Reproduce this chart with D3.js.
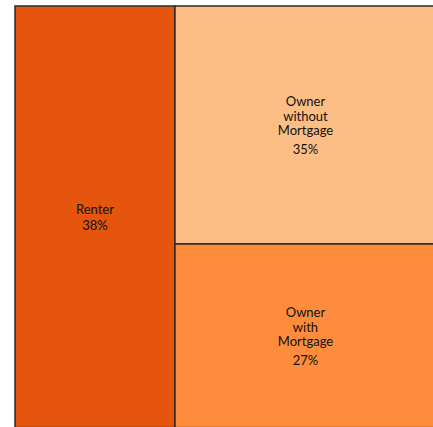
<!DOCTYPE html>
<html>
<head>
<meta charset="utf-8">
<script src="https://cdn.jsdelivr.net/npm/d3@7"></script>
<style>
  body { margin: 0; background: #fff; }
  svg { display: block; }
  .cell-label { font-family: Lato, "DejaVu Sans", sans-serif; font-size: 13px; fill: #111; }
</style>
</head>
<body>
<div id="chart"></div>
<script>
// housing tenure shares (percent)
var tenures = ["Renter", "Owner without Mortgage", "Owner with Mortgage"];
var groups = ["Renter", "Owner", "Owner"];
var shares = [38, 35, 27];
var fills = ["#e6550d", "#fdbe85", "#fd8d3c"];

var width = 433, height = 427;
var box = { left: 15, top: 6, right: 436, bottom: 427.6 };

var svg = d3.select("#chart").append("svg")
    .attr("width", width)
    .attr("height", height);

// build nested tree: renter alone, owners split inside one column
var rootData = { name: "root", children: [] };
tenures.forEach(function(t, i) {
    var leaf = { name: t, value: shares[i], fill: fills[i] };
    if (groups[i] === t) {
        rootData.children.push(leaf);
    } else {
        var g = rootData.children.find(function(c) { return c.name === groups[i]; });
        if (!g) {
            g = { name: groups[i], children: [] };
            rootData.children.push(g);
        }
        g.children.push(leaf);
    }
});

var root = d3.hierarchy(rootData).sum(function(d) { return d.value || 0; });

d3.treemap()
    .tile(d3.treemapSliceDice)
    .size([box.right - box.left, box.bottom - box.top])
    .paddingInner(0)
    (root);

var g = svg.append("g")
    .attr("transform", "translate(" + box.left + "," + box.top + ")");

var cells = g.selectAll("g.cell")
    .data(root.leaves())
    .enter().append("g")
    .attr("class", "cell");

cells.append("rect")
    .attr("x", function(d) { return d.x0; })
    .attr("y", function(d) { return d.y0; })
    .attr("width", function(d) { return d.x1 - d.x0; })
    .attr("height", function(d) { return d.y1 - d.y0; })
    .attr("fill", function(d) { return d.data.fill; })
    .attr("stroke", "#2a2a2a")
    .attr("stroke-width", 1.5);

cells.each(function(d) {
    var words = d.data.name.split(" ");
    var lineH = 14.5;
    var pctGap = words.length > 1 ? 19 : 16;
    var blockH = (words.length - 1) * lineH + pctGap;
    var cx = (d.x0 + d.x1) / 2;
    var cy = (d.y0 + d.y1) / 2;
    var startY = cy - blockH / 2;

    var text = d3.select(this).append("text")
        .attr("class", "cell-label")
        .attr("text-anchor", "middle");

    words.forEach(function(w, i) {
        text.append("tspan")
            .attr("x", cx)
            .attr("y", startY + i * lineH)
            .attr("dy", "0.4em")
            .text(w);
    });
    text.append("tspan")
        .attr("x", cx)
        .attr("y", startY + (words.length - 1) * lineH + pctGap)
        .attr("dy", "0.4em")
        .text(d.value + "%");
});
</script>
</body>
</html>
